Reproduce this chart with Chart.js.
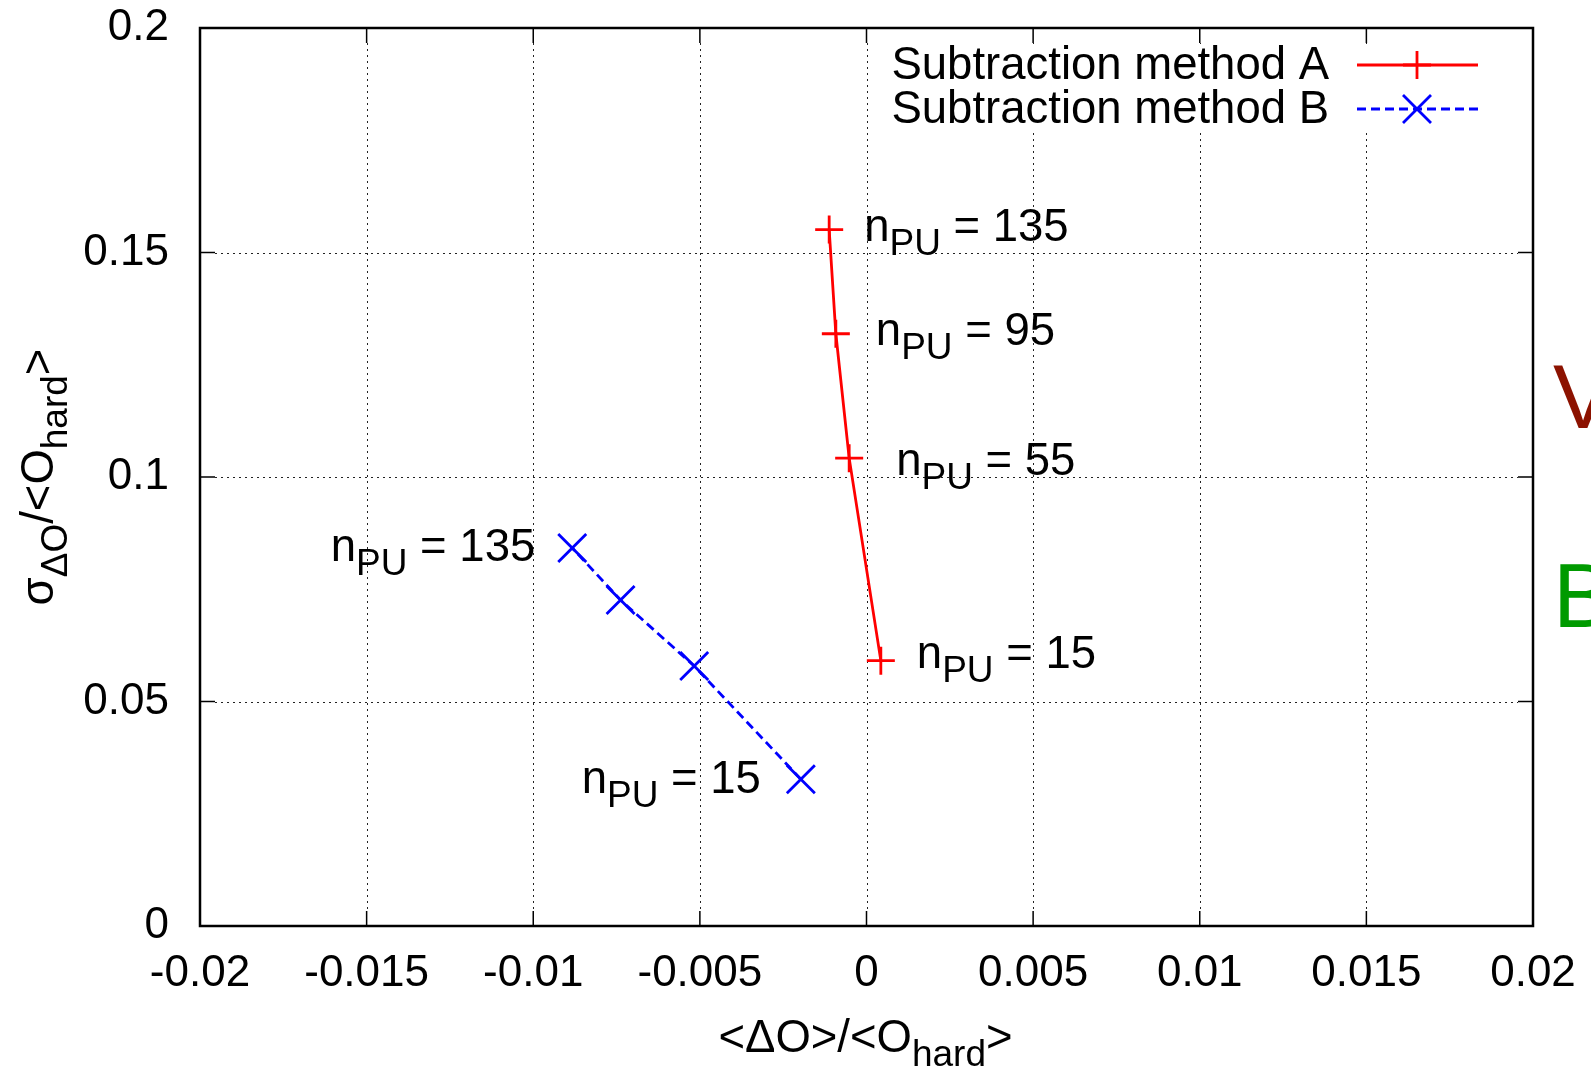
<!DOCTYPE html>
<html lang="en">
  <head>
    <meta charset="UTF-8" />
    <title>Subtraction methods vs pile-up</title>
    <script src="https://cdn.jsdelivr.net/npm/chart.js"></script>
    <style>
      html, body { margin: 0; padding: 0; background: #fff; }
      #plot { display: block; }
    </style>
  </head>
  <body>
    <canvas id="plot" width="1591" height="1067"></canvas>

    <script>
      // pile-up multiplicities, one per marker (same order in both series)
      const nPU = [15, 55, 95, 135];

      const methodA_x = [0.00043, -0.00052, -0.00092, -0.00112];
      const methodA_y = [0.0591, 0.1042, 0.1319, 0.1551];

      const methodB_x = [-0.00197, -0.00517, -0.00738, -0.00883];
      const methodB_y = [0.0327, 0.0579, 0.0726, 0.0842];

      const xTickValues = [-0.02, -0.015, -0.01, -0.005, 0, 0.005, 0.01, 0.015, 0.02];
      const xTickLabels = ["-0.02", "-0.015", "-0.01", "-0.005", "0", "0.005", "0.01", "0.015", "0.02"];
      const yTickValues = [0, 0.05, 0.1, 0.15, 0.2];
      const yTickLabels = ["0", "0.05", "0.1", "0.15", "0.2"];

      const FONT = "'Liberation Sans', Arial, Helvetica, sans-serif";
      const TICK = 44;
      const MAIN = 45.5;
      const SUB = 37;

      // text with gnuplot-like subscripts: parts = [[text, isSub], ...]
      function partsWidth(ctx, parts) {
        let w = 0;
        for (const [t, sub] of parts) {
          ctx.font = (sub ? SUB : MAIN) + "px " + FONT;
          w += ctx.measureText(t).width;
        }
        return w;
      }
      function drawParts(ctx, parts, x, baseline, align) {
        const w = partsWidth(ctx, parts);
        let cx = align === "right" ? x - w : align === "center" ? x - w / 2 : x;
        ctx.textAlign = "left";
        ctx.textBaseline = "alphabetic";
        for (const [t, sub] of parts) {
          ctx.font = (sub ? SUB : MAIN) + "px " + FONT;
          ctx.fillText(t, cx, baseline + (sub ? 14 : 0));
          cx += ctx.measureText(t).width;
        }
      }

      function noPad(s) {
        s.paddingTop = s.paddingBottom = s.paddingLeft = s.paddingRight = 0;
      }

      const decor = {
        id: "decor",
        beforeDatasetsDraw(chart) {
          const { ctx, chartArea: a, scales } = chart;
          ctx.save();
          // dotted grid
          ctx.strokeStyle = "#222";
          ctx.lineWidth = 1;
          ctx.setLineDash([2, 4]);
          xTickValues.slice(1, -1).forEach(v => {
            const px = Math.round(scales.x.getPixelForValue(v)) + 0.5;
            ctx.beginPath(); ctx.moveTo(px, a.top + 15); ctx.lineTo(px, a.bottom - 15); ctx.stroke();
          });
          yTickValues.slice(1, -1).forEach(v => {
            const py = Math.round(scales.y.getPixelForValue(v)) + 0.5;
            ctx.beginPath(); ctx.moveTo(a.left + 15, py); ctx.lineTo(a.right - 15, py); ctx.stroke();
          });
          ctx.setLineDash([]);

          // opaque key box
          ctx.fillStyle = "#fff";
          ctx.fillRect(870, 44, 620, 88);

          // inward ticks on all four sides
          ctx.strokeStyle = "#000";
          ctx.lineWidth = 1.5;
          xTickValues.forEach(v => {
            const px = scales.x.getPixelForValue(v);
            ctx.beginPath();
            ctx.moveTo(px, a.bottom); ctx.lineTo(px, a.bottom - 15);
            ctx.moveTo(px, a.top); ctx.lineTo(px, a.top + 15);
            ctx.stroke();
          });
          yTickValues.forEach(v => {
            const py = scales.y.getPixelForValue(v);
            ctx.beginPath();
            ctx.moveTo(a.left, py); ctx.lineTo(a.left + 15, py);
            ctx.moveTo(a.right, py); ctx.lineTo(a.right - 15, py);
            ctx.stroke();
          });

          // border
          ctx.lineWidth = 2.5;
          ctx.strokeRect(a.left, a.top, a.right - a.left, a.bottom - a.top);
          ctx.restore();
        },
        afterDatasetsDraw(chart) {
          const { ctx, chartArea: a } = chart;
          ctx.save();
          ctx.fillStyle = "#000";

          // key
          chart.data.datasets.forEach((ds, i) => {
            const cy = 65 + i * 44;
            ctx.font = MAIN + "px " + FONT;
            ctx.textAlign = "right";
            ctx.textBaseline = "middle";
            ctx.fillStyle = "#000";
            ctx.fillText(ds.label, 1329, cy + 1);
            ctx.strokeStyle = ds.borderColor;
            ctx.lineWidth = ds.borderWidth;
            ctx.setLineDash(ds.borderDash || []);
            ctx.beginPath(); ctx.moveTo(1357, cy); ctx.lineTo(1478, cy); ctx.stroke();
            ctx.setLineDash([]);
            ctx.lineWidth = ds.pointBorderWidth;
            Chart.helpers.drawPoint(ctx, { pointStyle: ds.pointStyle, radius: ds.pointRadius, borderWidth: ds.pointBorderWidth, rotation: 0 }, 1417, cy);
          });

          // n_PU labels next to the markers
          const offA = [[36, -8], [47, 2], [40, -4], [35, -4]];
          const offB = { 0: [-40, -1], 3: [-37, -2] };
          ctx.fillStyle = "#000";
          chart.getDatasetMeta(0).data.forEach((pt, i) => {
            const [dx, dy] = offA[i];
            drawParts(ctx, [["n", false], ["PU", true], [" = " + nPU[i], false]], pt.x + dx, pt.y + dy + 15, "left");
          });
          chart.getDatasetMeta(1).data.forEach((pt, i) => {
            if (!offB[i]) return;
            const [dx, dy] = offB[i];
            drawParts(ctx, [["n", false], ["PU", true], [" = " + nPU[i], false]], pt.x + dx, pt.y + dy + 15, "right");
          });

          // axis titles
          drawParts(ctx, [["<ΔO>/<O", false], ["hard", true], [">", false]], (a.left + a.right) / 2 - 1, 1052, "center");
          ctx.save();
          ctx.translate(53, (a.top + a.bottom) / 2);
          ctx.rotate(-Math.PI / 2);
          drawParts(ctx, [["σ", false], ["ΔO", true], ["/<O", false], ["hard", true], [">", false]], 0, 0, "center");
          ctx.restore();

          // letters of the neighbouring slide text, cut at the edge
          ctx.font = "90px " + FONT;
          ctx.textAlign = "left";
          ctx.textBaseline = "alphabetic";
          ctx.fillStyle = "#8c1200";
          ctx.fillText("V", 1553, 428);
          ctx.fillStyle = "#009a00";
          ctx.fillText("B", 1553, 627);
          ctx.restore();
        }
      };

      const ctx = document.getElementById("plot").getContext("2d");

      new Chart(ctx, {
        type: "scatter",
        data: {
          datasets: [
            {
              label: "Subtraction method A",
              data: methodA_x.map((x, i) => ({ x, y: methodA_y[i] })),
              showLine: true,
              borderColor: "#ff0000",
              backgroundColor: "#ff0000",
              borderWidth: 2.8,
              pointStyle: "cross",
              pointRadius: 14,
              pointHoverRadius: 14,
              pointBorderWidth: 2.8,
            },
            {
              label: "Subtraction method B",
              data: methodB_x.map((x, i) => ({ x, y: methodB_y[i] })),
              showLine: true,
              borderColor: "#0000ff",
              backgroundColor: "#0000ff",
              borderWidth: 2.8,
              borderDash: [9, 5],
              pointStyle: "crossRot",
              pointRadius: 19.8,
              pointHoverRadius: 19.8,
              pointBorderWidth: 2.8,
            },
          ],
        },
        options: {
          responsive: false,
          animation: false,
          devicePixelRatio: 1,
          events: [],
          layout: { padding: { top: 28, right: 58, left: 0, bottom: 0 } },
          plugins: { legend: { display: false }, tooltip: { enabled: false } },
          scales: {
            x: {
              type: "linear",
              min: -0.02,
              max: 0.02,
              afterBuildTicks: s => { s.ticks = xTickValues.map(v => ({ value: v })); },
              afterFit: s => { s.height = 141; noPad(s); },
              grid: { display: false, drawTicks: false },
              border: { display: false },
              ticks: {
                callback: (v, i) => xTickLabels[i],
                autoSkip: false,
                maxRotation: 0,
                padding: 21,
                color: "#000",
                font: { family: FONT, size: TICK, lineHeight: 1.2 },
              },
            },
            y: {
              type: "linear",
              min: 0,
              max: 0.2,
              afterBuildTicks: s => { s.ticks = yTickValues.map(v => ({ value: v })); },
              afterFit: s => { s.width = 200; noPad(s); },
              grid: { display: false, drawTicks: false },
              border: { display: false },
              ticks: {
                callback: (v, i) => yTickLabels[i],
                autoSkip: false,
                padding: 31,
                color: "#000",
                font: { family: FONT, size: TICK, lineHeight: 1.2 },
              },
            },
          },
        },
        plugins: [decor],
      });
    </script>
  </body>
</html>
